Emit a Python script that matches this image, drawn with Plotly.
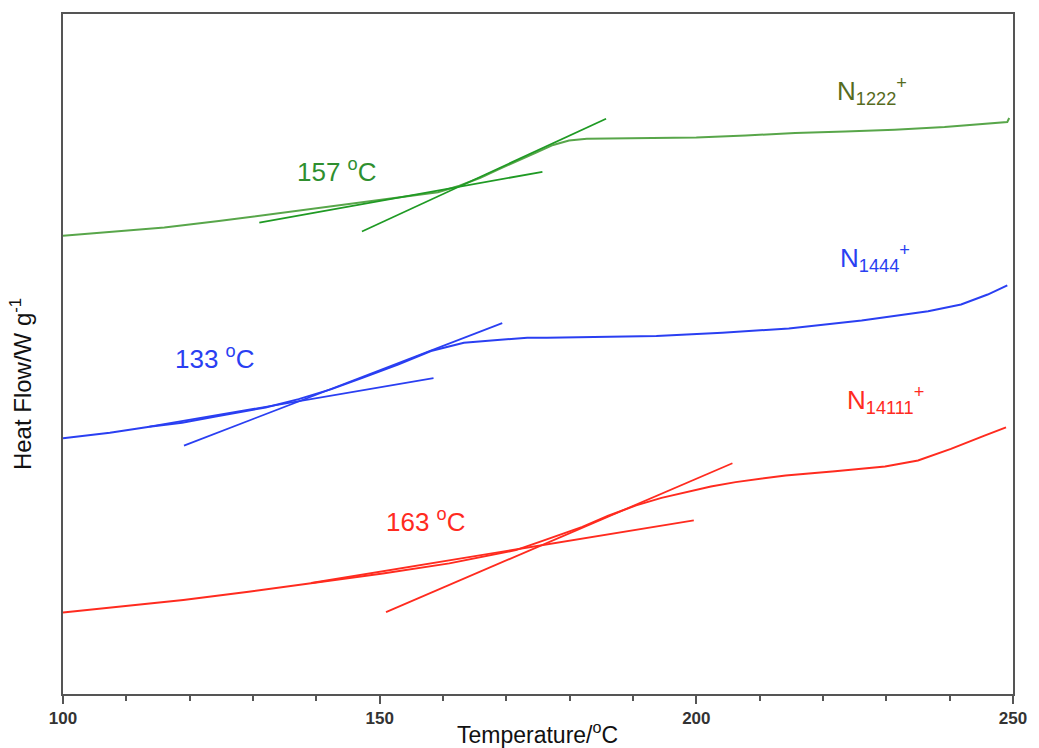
import plotly.graph_objects as go

# ---- data (temperature in °C, heat flow in arbitrary offset units) ----
green_T = [100.0, 107.4, 116.0, 124.6, 134.0, 141.9, 148.5, 154.4, 159.2, 162.6, 165.9, 168.6,
           171.9, 174.8, 177.4, 179.9, 182.7, 192.1, 200.0, 207.8, 215.6, 223.5, 231.3, 239.2, 249.1, 249.4]
green_HF = [4.602, 4.64, 4.685, 4.75, 4.828, 4.89, 4.945, 4.995, 5.04, 5.105, 5.185, 5.265,
            5.355, 5.44, 5.515, 5.56, 5.578, 5.585, 5.59, 5.61, 5.635, 5.65, 5.668, 5.695, 5.745, 5.785]

blue_T = [100.0, 107.4, 113.65, 118.8, 124.1, 127.8, 132.0, 137.2, 142.4, 147.5, 152.9, 158.1, 163.3,
          168.6, 173.3, 176.4, 184.3, 193.7, 204.1, 214.6, 226.1, 236.6, 241.8, 246.0, 249.1]
blue_HF = [2.568, 2.625, 2.685, 2.725, 2.788, 2.83, 2.878, 2.962, 3.062, 3.18, 3.31, 3.445, 3.528,
           3.555, 3.578, 3.578, 3.585, 3.595, 3.628, 3.672, 3.752, 3.845, 3.912, 4.012, 4.105]

red_T = [100.0, 119.0, 129.3, 140.0, 150.5, 161.0, 171.5, 175.6, 182.0, 186.1, 190.5, 194.5, 198.4,
         202.3, 206.2, 214.1, 221.9, 229.8, 235.0, 240.2, 245.5, 248.9]
red_HF = [0.818, 0.945, 1.028, 1.118, 1.21, 1.312, 1.445, 1.535, 1.678, 1.79, 1.895, 1.97, 2.028,
          2.085, 2.128, 2.195, 2.238, 2.285, 2.345, 2.462, 2.595, 2.678]

# tangent (onset construction) lines: [T_start, T_end], [HF_start, HF_end]
green_tan1_T, green_tan1_HF = [131.0, 175.7], [4.735, 5.245]
green_tan2_T, green_tan2_HF = [147.2, 185.75], [4.645, 5.778]
blue_tan1_T, blue_tan1_HF = [113.65, 158.5], [2.685, 3.172]
blue_tan2_T, blue_tan2_HF = [119.1, 169.35], [2.495, 3.725]
red_tan1_T, red_tan1_HF = [139.2, 199.6], [1.115, 1.745]
red_tan2_T, red_tan2_HF = [151.0, 205.7], [0.822, 2.318]

onset_labels = ["157 <sup>o</sup>C", "133 <sup>o</sup>C", "163 <sup>o</sup>C"]
onset_pos = [(143.3, 5.26), (124.0, 3.38), (157.3, 1.74)]
series_labels = ["N<sub>1222</sub><sup>+</sup>", "N<sub>1444</sub><sup>+</sup>", "N<sub>14111</sub><sup>+</sup>"]
series_pos = [(221.9, 6.06), (222.4, 4.38), (223.5, 2.955)]

x_ticks = [100, 150, 200, 250]

# ---- styles ----
C_GREEN_CURVE = "#58a64a"
C_GREEN_TAN = "#1f9a24"
C_GREEN_TXT = "#2f8f2f"
C_GREEN_NAME = "#566b1e"
C_BLUE = "#2a3ff2"
C_RED = "#ff2b1f"
FONT = "Liberation Sans, Arial, sans-serif"

fig = go.Figure()

def add_line(x, y, color, width):
    fig.add_trace(go.Scatter(x=x, y=y, mode="lines", line=dict(color=color, width=width),
                             hoverinfo="skip", showlegend=False))

add_line(green_T, green_HF, C_GREEN_CURVE, 2)
add_line(blue_T, blue_HF, C_BLUE, 2)
add_line(red_T, red_HF, C_RED, 2)
add_line(green_tan1_T, green_tan1_HF, C_GREEN_TAN, 1.8)
add_line(green_tan2_T, green_tan2_HF, C_GREEN_TAN, 1.8)
add_line(blue_tan1_T, blue_tan1_HF, C_BLUE, 1.8)
add_line(blue_tan2_T, blue_tan2_HF, C_BLUE, 1.8)
add_line(red_tan1_T, red_tan1_HF, C_RED, 1.8)
add_line(red_tan2_T, red_tan2_HF, C_RED, 1.8)

onset_colors = [C_GREEN_TXT, C_BLUE, C_RED]
for txt, (x, y), c in zip(onset_labels, onset_pos, onset_colors):
    fig.add_annotation(x=x, y=y, text=txt, showarrow=False, xanchor="center", yanchor="middle",
                       font=dict(family=FONT, size=26, color=c))

name_colors = [C_GREEN_NAME, C_BLUE, C_RED]
for txt, (x, y), c in zip(series_labels, series_pos, name_colors):
    fig.add_annotation(x=x, y=y, text=txt, showarrow=False, xanchor="left", yanchor="middle",
                       font=dict(family=FONT, size=26, color=c))

# axis titles as paper annotations
fig.add_annotation(xref="paper", yref="paper", x=0.499, y=-0.057, yanchor="middle",
                   text="Temperature/<sup>o</sup>C", showarrow=False,
                   font=dict(family=FONT, size=23, color="#111"))
fig.add_annotation(xref="paper", yref="paper", x=-0.044, y=0.456, xanchor="center", yanchor="middle",
                   text="Heat Flow/W g<sup>-1</sup>", showarrow=False, textangle=-90,
                   font=dict(family=FONT, size=24, color="#111"))

fig.update_layout(
    width=1039, height=748,
    margin=dict(l=63, r=21, t=12, b=54),
    paper_bgcolor="white", plot_bgcolor="white",
    showlegend=False,
    font=dict(family=FONT),
    xaxis=dict(range=[100, 250], tickvals=x_ticks, ticktext=[str(v) for v in x_ticks],
               showgrid=False, zeroline=False, showline=True, linecolor="#555", linewidth=2,
               mirror=True, ticks="outside", ticklen=8, tickwidth=1.5, tickcolor="#555",
               tickfont=dict(family=FONT, size=17, color="#333", weight="bold"),
               minor=dict(dtick=10, tick0=100, ticks="outside", ticklen=5, tickwidth=1.5,
                          tickcolor="#555", showgrid=False)),
    yaxis=dict(range=[0, 6.83], showgrid=False, zeroline=False, showline=True, linecolor="#555",
               linewidth=2, mirror=True, showticklabels=False, ticks=""),
)

fig.write_html("out.html")
